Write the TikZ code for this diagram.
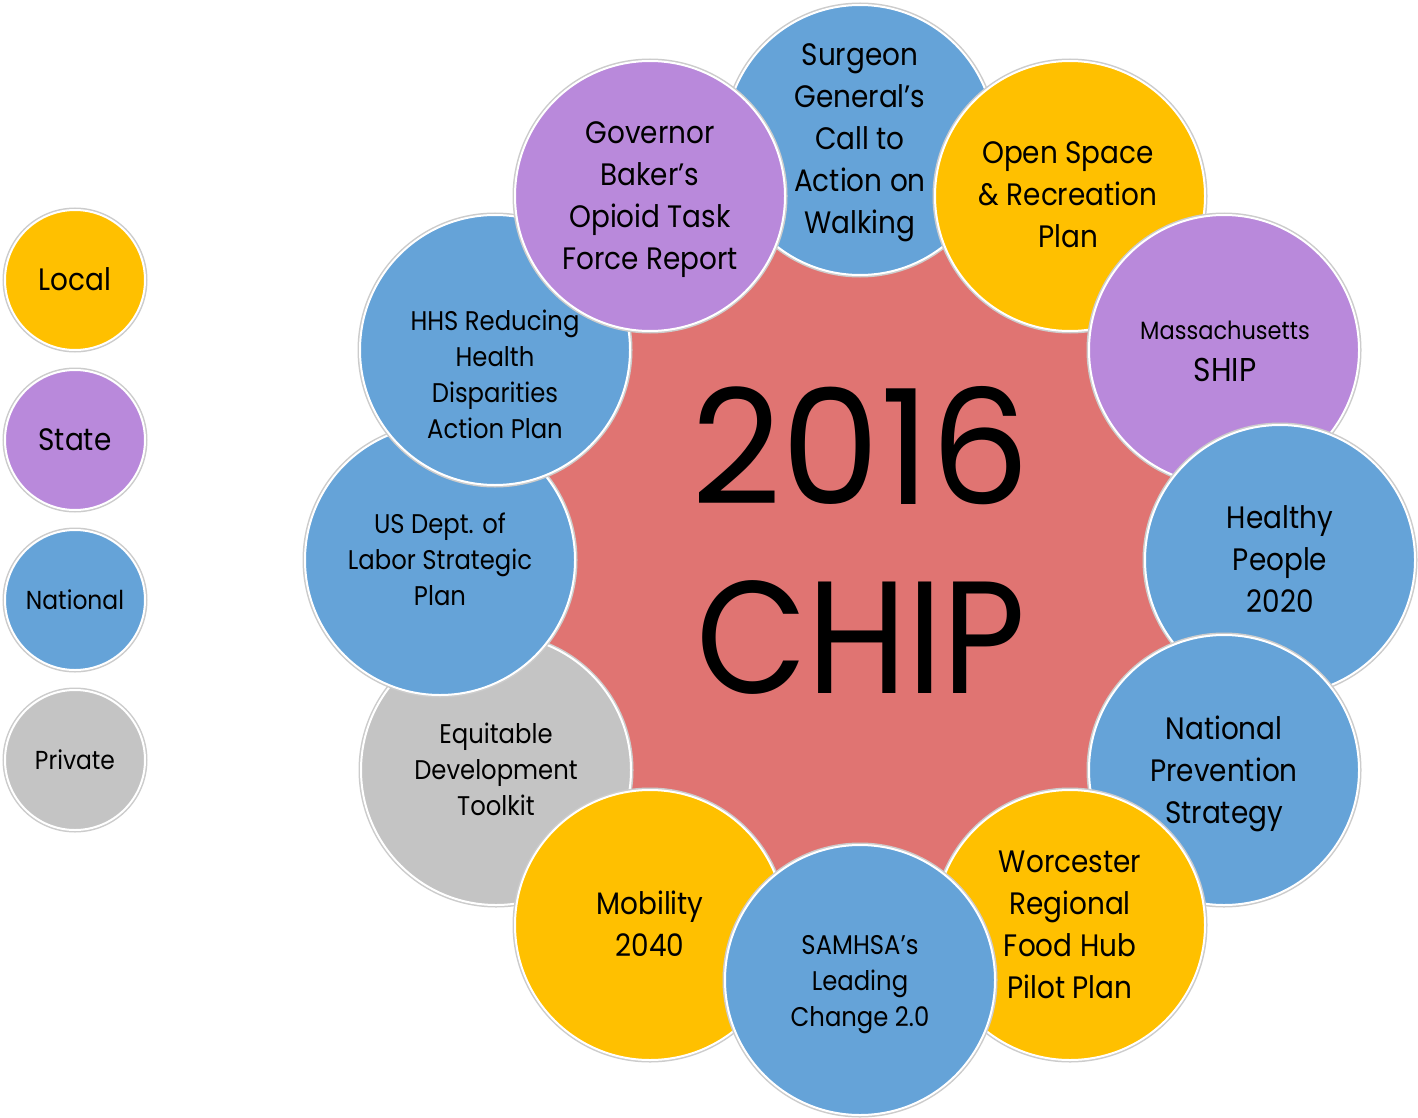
\documentclass[tikz,border=0pt]{standalone}
\usepackage{fontspec}
\setmainfont{Poppins}[FakeStretch=0.9]
\definecolor{cyel}{RGB}{255,192,0}
\definecolor{cpur}{RGB}{185,137,219}
\definecolor{cblu}{RGB}{101,163,216}
\definecolor{cgry}{RGB}{196,196,196}
\definecolor{cred}{RGB}{224,116,114}
\newcommand\fszM{\fontsize{31}{42}\selectfont}
\newcommand\fszS{\fontsize{27}{36}\selectfont}
\newcommand\fszT{\fontsize{26}{36}\selectfont}
\newcommand\fszL{\fontsize{160}{189}\selectfont}
\newcommand\Lf[1]{\vphantom{H}\smash{#1}}
\newcommand\Ln[1]{\smash{#1}}
\begin{document}
\begin{tikzpicture}[x=1pt,y=-1pt,
  bubble/.style={circle, minimum size=270pt, inner sep=0pt, draw=white, line width=2pt,
    preaction={draw=black!20, line width=5pt}},
  legbubble/.style={bubble, minimum size=140pt},
  core/.style={circle, minimum size=740pt, inner sep=0pt, fill=cred},
  lbl/.style={align=center, inner sep=0pt, text=black}]
\useasboundingbox (0,0) rectangle (1418,1118);
\fill[white] (0,0) rectangle (1418,1118);
% legend
\node[legbubble, fill=cyel] (lg1) at (75,280) {};
\node[lbl, font=\fszM] (lt1) at (75,280) {\Lf{Local}};
\node[legbubble, fill=cpur] (lg2) at (75,440) {};
\node[lbl, font=\fszM] (lt2) at (75,440) {\Lf{State}};
\node[legbubble, fill=cblu] (lg3) at (75,600) {};
\node[lbl, font=\fszT] (lt3) at (75,600) {\Lf{National}};
\node[legbubble, fill=cgry] (lg4) at (75,760) {};
\node[lbl, font=\fszT] (lt4) at (75,760) {\Lf{Private}};
% core
\node[core] (hub) at (860,560) {};
\node[lbl, font=\fszL] (hubtxt) at (861,543) {\Lf{\scalebox{1.09}[1]{2016}}\\\Ln{CHIP}};
% ring
\node[bubble, fill=cblu] (c1) at (860,140) {};
\node[lbl, font=\fszM] (t1) at (860,139) {\Lf{Surgeon}\\\Ln{General’s}\\\Ln{Call to}\\\Ln{Action on}\\\Ln{Walking}};
\node[bubble, fill=cyel] (c2) at (1070,196) {};
\node[lbl, font=\fszM] (t2) at (1068,195) {\Lf{Open Space}\\\Ln{\& Recreation}\\\Ln{Plan}};
\node[bubble, fill=cpur] (c3) at (1224,350) {};
\node[lbl, font=\fontsize{33}{42}\selectfont] (t3) at (1225,352) {\fontsize{25}{42}\selectfont\Lf{Massachusetts}\\\Ln{SHIP}};
\node[bubble, fill=cblu] (c4) at (1280,560) {};
\node[lbl, font=\fszM] (t4) at (1280,560) {\Lf{Healthy}\\\Ln{People}\\\Ln{2020}};
\node[bubble, fill=cblu] (c5) at (1224,770) {};
\node[lbl, font=\fszM] (t5) at (1224,771) {\Lf{National}\\\Ln{Prevention}\\\Ln{Strategy}};
\node[bubble, fill=cyel] (c6) at (1070,925) {};
\node[lbl, font=\fszM] (t6) at (1070,925) {\Lf{Worcester}\\\Ln{Regional}\\\Ln{Food Hub}\\\Ln{Pilot Plan}};
\node[bubble, fill=cgry] (c7) at (496,770) {};
\node[lbl, font=\fszS] (t7) at (496,770) {\Lf{Equitable}\\\Ln{Development}\\\Ln{Toolkit}};
\node[bubble, fill=cyel] (c8) at (650,925) {};
\node[lbl, font=\fszM] (t8) at (650,925) {\Lf{Mobility}\\\Ln{2040}};
\node[bubble, fill=cblu] (c9) at (440,560) {};
\node[lbl, font=\fszS] (t9) at (440,560) {\Lf{US Dept. of}\\\Ln{Labor Strategic}\\\Ln{Plan}};
\node[bubble, fill=cblu] (c10) at (495,350) {};
\node[lbl, font=\fszS] (t10) at (495,375) {\Lf{HHS Reducing}\\\Ln{Health}\\\Ln{Disparities}\\\Ln{Action Plan}};
\node[bubble, fill=cpur] (c11) at (650,196) {};
\node[lbl, font=\fszM] (t11) at (650,196) {\Lf{Governor}\\\Ln{Baker’s}\\\Ln{Opioid Task}\\\Ln{Force Report}};
\node[bubble, fill=cblu] (c12) at (860,980) {};
\node[lbl, font=\fszS] (t12) at (860,981) {\Lf{SAMHSA’s}\\\Ln{Leading}\\\Ln{Change 2.0}};
\end{tikzpicture}
\end{document}
